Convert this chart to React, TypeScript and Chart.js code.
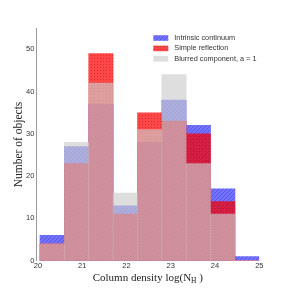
import React, { useEffect, useRef } from 'react';
import { Chart, registerables } from 'chart.js';
Chart.register(...registerables);

// Histogram bins (centres, log N_H)
const binCenters = [20.322, 20.873, 21.423, 21.973, 22.524, 23.074, 23.624, 24.175, 24.725];
const intrinsic = [6, 27, 37, 13, 28, 38, 32, 17, 1];
const reflection = [4, 23, 49, 11, 35, 33, 30, 14, 0];
const blurred = [4, 28, 42, 16, 31, 44, 23, 11, 0];
const seriesLabels = ['Intrinsic continuum', 'Simple reflection', 'Blurred component, a = 1'];
const xTicks = [20, 21, 22, 23, 24, 25];
const yTicks = [0, 10, 20, 30, 40, 50];

function hatchPattern(): CanvasPattern | string {
  const c = document.createElement('canvas');
  c.width = 4; c.height = 4;
  const g = c.getContext('2d');
  if (!g) return 'rgba(0,0,255,0.55)';
  g.fillStyle = 'rgba(0,0,255,0.55)';
  g.fillRect(0, 0, 4, 4);
  g.strokeStyle = 'rgba(0,0,140,0.25)';
  g.lineWidth = 1;
  g.beginPath();
  g.moveTo(0, 4); g.lineTo(4, 0);
  g.moveTo(-1, 1); g.lineTo(1, -1);
  g.moveTo(3, 5); g.lineTo(5, 3);
  g.stroke();
  return g.createPattern(c, 'repeat') || 'rgba(0,0,255,0.55)';
}

function dotPattern(): CanvasPattern | string {
  const c = document.createElement('canvas');
  c.width = 3; c.height = 3;
  const g = c.getContext('2d');
  if (!g) return 'rgba(255,0,0,0.72)';
  g.fillStyle = 'rgba(255,0,0,0.72)';
  g.fillRect(0, 0, 3, 3);
  g.fillStyle = 'rgba(110,0,0,0.3)';
  g.fillRect(1, 1, 1, 1);
  return g.createPattern(c, 'repeat') || 'rgba(255,0,0,0.72)';
}

const legendPlugin = {
  id: 'customLegend',
  afterDraw(chart: any) {
    const ctx = chart.ctx;
    ctx.save();
    chart.data.datasets.forEach((ds: any, i: number) => {
      const y = 38 + i * 10.4;
      ctx.fillStyle = ds.backgroundColor;
      ctx.fillRect(153.3, y - 2.8, 15, 5.6);
      ctx.fillStyle = '#333';
      ctx.font = '7.3px "Liberation Sans", Arial, sans-serif';
      ctx.textBaseline = 'middle';
      ctx.textAlign = 'left';
      ctx.fillText(ds.label, 174.3, y);
    });
    ctx.restore();
  },
};

const xTitlePlugin = {
  id: 'xTitle',
  afterDraw(chart: any) {
    const ctx = chart.ctx;
    const area = chart.chartArea;
    ctx.save();
    const main = '11px "Liberation Serif", serif';
    const sub = '7.5px "Liberation Serif", serif';
    const p1 = 'Column density log(N';
    const p2 = 'H';
    const p3 = ' )';
    ctx.font = main;
    const w1 = ctx.measureText(p1).width;
    const w3 = ctx.measureText(p3).width;
    ctx.font = sub;
    const w2 = ctx.measureText(p2).width;
    const total = w1 + w2 + w3;
    const x0 = (area.left + area.right) / 2 - total / 2;
    const y = area.bottom + 20;
    ctx.fillStyle = '#222';
    ctx.textBaseline = 'alphabetic';
    ctx.textAlign = 'left';
    ctx.font = main;
    ctx.fillText(p1, x0, y);
    ctx.font = sub;
    ctx.fillText(p2, x0 + w1, y + 2);
    ctx.font = main;
    ctx.fillText(p3, x0 + w1 + w2, y);
    ctx.restore();
  },
};

export default function App() {
  const ref = useRef<HTMLCanvasElement | null>(null);
  useEffect(() => {
    if (!ref.current) return;
    const toPts = (arr: number[]) => arr.map((y, i) => ({ x: binCenters[i], y }));
    const chart = new Chart(ref.current, {
      type: 'bar',
      data: {
        datasets: [
          { label: seriesLabels[0], data: toPts(intrinsic), backgroundColor: hatchPattern() as any, order: 3 },
          { label: seriesLabels[1], data: toPts(reflection), backgroundColor: dotPattern() as any, order: 2 },
          { label: seriesLabels[2], data: toPts(blurred), backgroundColor: 'rgba(205,205,205,0.65)', order: 1 },
        ],
      },
      options: {
        animation: false,
        responsive: false,
        devicePixelRatio: 1,
        layout: { padding: { top: 28.2, left: 0, right: 31.7, bottom: 0 } },
        datasets: {
          bar: { grouped: false, barPercentage: 1, categoryPercentage: 1, borderWidth: 0 },
        },
        plugins: { legend: { display: false }, tooltip: { enabled: false } },
        scales: {
          x: {
            type: 'linear',
            min: 19.964,
            max: 25,
            offset: false,
            grid: { display: false, drawTicks: false },
            border: { display: false },
            afterBuildTicks: (axis: any) => { axis.ticks = xTicks.map((v) => ({ value: v })); },
            afterFit: (axis: any) => { axis.height = 30.3; },
            ticks: {
              autoSkip: false,
              maxRotation: 0,
              padding: 1,
              color: '#333',
              font: { family: '"Liberation Sans", Arial, sans-serif', size: 7.5 },
              callback: (v: any) => String(v),
            },
          },
          y: {
            min: 0,
            max: 55,
            grid: { display: false, drawTicks: false },
            border: { display: true, color: '#999', width: 1 },
            afterBuildTicks: (axis: any) => { axis.ticks = yTicks.map((v) => ({ value: v })); },
            afterFit: (axis: any) => { axis.width = 36.3; },
            ticks: {
              padding: 2,
              color: '#333',
              font: { family: '"Liberation Sans", Arial, sans-serif', size: 7.5 },
              callback: (v: any) => String(v),
            },
            title: {
              display: true,
              text: 'Number of objects',
              color: '#222',
              font: { family: '"Liberation Serif", serif', size: 11.5 },
              padding: { top: 12.2, bottom: 0 },
            },
          },
        },
      },
      plugins: [legendPlugin, xTitlePlugin],
    } as any);
    return () => chart.destroy();
  }, []);
  return (
    <div style={{ position: 'absolute', left: 0, top: 0, width: 291, height: 291, background: '#fff' }}>
      <canvas ref={ref} width={291} height={291} style={{ width: 291, height: 291, display: 'block' }} />
    </div>
  );
}
